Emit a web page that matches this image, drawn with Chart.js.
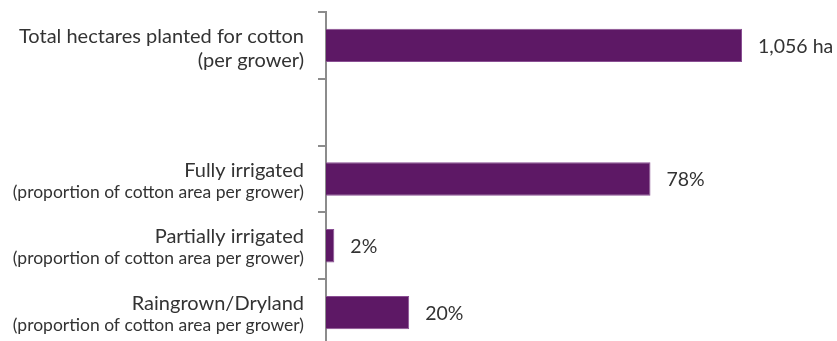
<!DOCTYPE html>
<html>
<head>
<meta charset="utf-8">
<script src="https://cdn.jsdelivr.net/npm/chart.js@4"></script>
<style>
  html, body { margin: 0; padding: 0; background: #fff; overflow: hidden; }
  #wrap { width: 837px; height: 346px; position: relative; }
</style>
</head>
<body>
<div id="wrap"><canvas id="c"></canvas></div>
<script>
// Row headings (large type) and explanatory notes (smaller type)
const categoryTitles = [
  ['Total hectares planted for cotton', '(per grower)'],
  [],
  ['Fully irrigated'],
  ['Partially irrigated'],
  ['Raingrown/Dryland']
];
const categoryNotes = [
  '',
  '',
  '(proportion of cotton area per grower)',
  '(proportion of cotton area per grower)',
  '(proportion of cotton area per grower)'
];
// Average cotton area per grower (ha) and share of that area by water source (%)
const hectares = [1056, null, null, null, null];
const areaShares = [null, null, 78, 2, 20];

const FONT = 'Lato, "Open Sans", sans-serif';
const TEXT = '#333333';
const AXIS = '#8c8c8c';
const BAR = '#5d1865';
const BAR_EDGE = '#8a4f93';

const rowLabels = {
  id: 'rowLabels',
  afterDraw(chart) {
    const ctx = chart.ctx;
    const y = chart.scales.y;
    const right = y.right - 22;
    ctx.save();
    ctx.fillStyle = TEXT;
    ctx.textAlign = 'right';
    ctx.textBaseline = 'alphabetic';
    categoryTitles.forEach((lines, i) => {
      const cy = y.getPixelForValue(i);
      let base = cy - 2.5;
      lines.forEach(line => {
        ctx.font = '20px ' + FONT;
        ctx.fillText(line, right, base);
        base += 24;
      });
      if (categoryNotes[i]) {
        base -= 3;
        ctx.font = '17.5px ' + FONT;
        ctx.fillText(categoryNotes[i], right, base);
      }
    });
    ctx.restore();
  }
};

const valueLabels = {
  id: 'valueLabels',
  afterDatasetsDraw(chart) {
    const ctx = chart.ctx;
    ctx.save();
    ctx.fillStyle = TEXT;
    ctx.font = '19.5px ' + FONT;
    ctx.textAlign = 'left';
    ctx.textBaseline = 'middle';
    chart.data.datasets.forEach((ds, di) => {
      const meta = chart.getDatasetMeta(di);
      meta.data.forEach((el, i) => {
        const v = ds.data[i];
        if (v === null || v === undefined) return;
        const text = ds.xAxisID === 'xHa'
          ? v.toLocaleString('en-US') + ' ha'
          : v + '%';
        ctx.fillText(text, el.x + 16, el.y + 1);
      });
    });
    ctx.restore();
  }
};

new Chart(document.getElementById('c'), {
  type: 'bar',
  data: {
    labels: categoryTitles.map(l => l.join(' ')),
    datasets: [
      {
        data: hectares,
        xAxisID: 'xHa',
        backgroundColor: BAR,
        borderColor: BAR_EDGE,
        borderWidth: 1,
        grouped: false,
        categoryPercentage: 1,
        barPercentage: 0.5
      },
      {
        data: areaShares,
        xAxisID: 'xPct',
        backgroundColor: BAR,
        borderColor: BAR_EDGE,
        borderWidth: 1,
        grouped: false,
        categoryPercentage: 1,
        barPercentage: 0.5
      }
    ]
  },
  options: {
    indexAxis: 'y',
    responsive: true,
    maintainAspectRatio: false,
    animation: false,
    layout: { padding: { top: 12, right: 95, bottom: 0, left: 0 } },
    plugins: { legend: { display: false }, tooltip: { enabled: false } },
    scales: {
      y: {
        z: 1,
        grid: {
          display: true,
          drawOnChartArea: false,
          drawTicks: true,
          tickLength: 8,
          color: AXIS,
          lineWidth: 2,
          offset: true
        },
        border: { display: true, color: AXIS, width: 2 },
        ticks: { display: false },
        afterFit(scale) { scale.width = 326; }
      },
      xHa: { display: false, min: 0, max: 1056 },
      xPct: { display: false, min: 0, max: 100 }
    }
  },
  plugins: [rowLabels, valueLabels]
});
</script>
</body>
</html>
